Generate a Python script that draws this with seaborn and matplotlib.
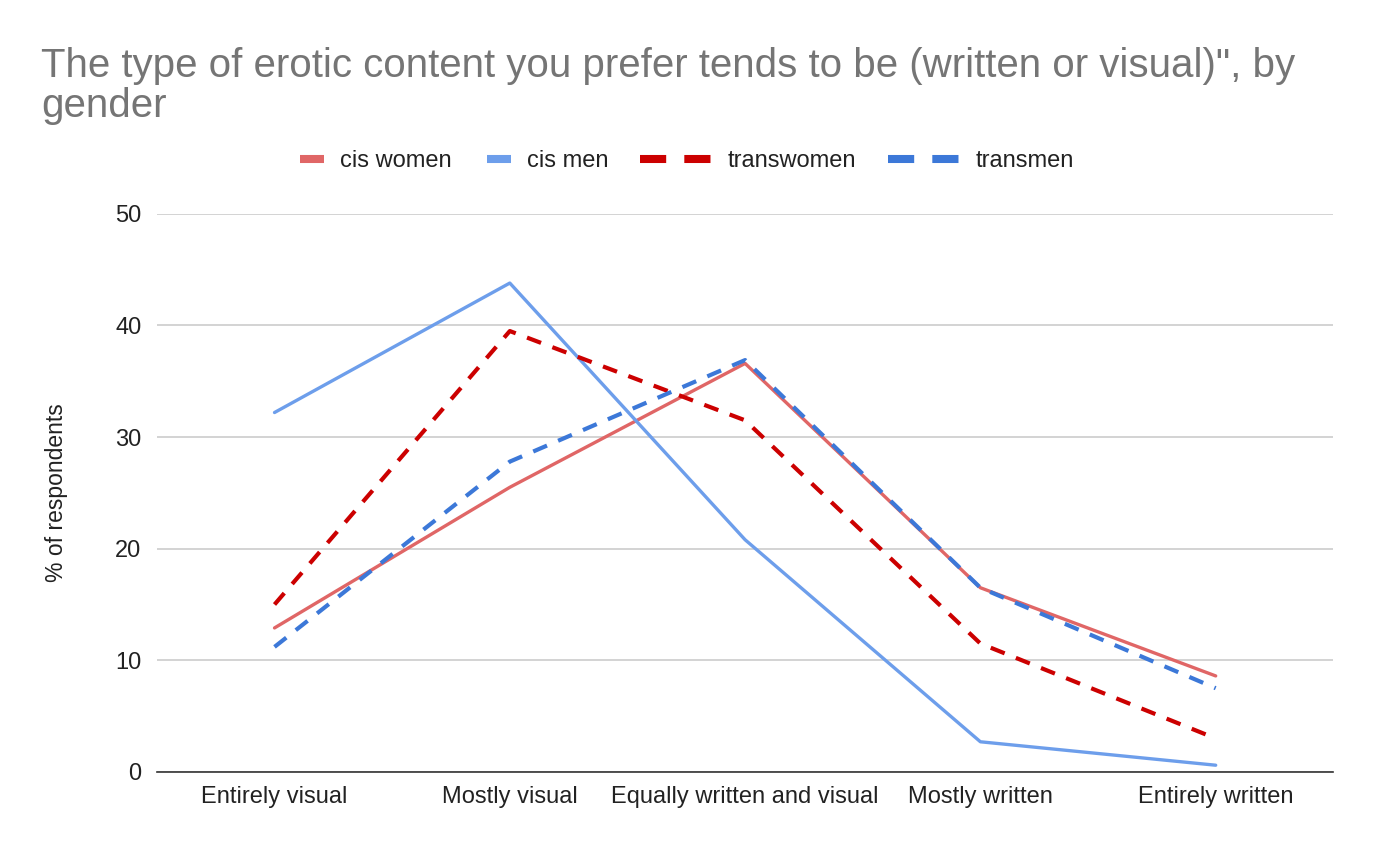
import matplotlib.pyplot as plt
from matplotlib.lines import Line2D
import pandas as pd
import seaborn as sns

categories = ['Entirely visual', 'Mostly visual', 'Equally written and visual',
              'Mostly written', 'Entirely written']
cis_women = [12.9, 25.5, 36.6, 16.5, 8.6]
cis_men = [32.2, 43.8, 20.8, 2.7, 0.6]
transwomen = [15.0, 39.5, 31.5, 11.5, 3.0]
transmen = [11.2, 27.8, 36.9, 16.5, 7.5]

series = {'cis women': cis_women, 'cis men': cis_men,
          'transwomen': transwomen, 'transmen': transmen}
df = pd.DataFrame([(g, c, v) for g, vals in series.items()
                   for c, v in zip(categories, vals)],
                  columns=['gender', 'category', 'value'])

palette = {'cis women': '#e06666', 'cis men': '#6d9eeb',
           'transwomen': '#cc0000', 'transmen': '#3c78d8'}
dashed = {'cis women': False, 'cis men': False, 'transwomen': True, 'transmen': True}
dashes = {k: ((3.6, 2.9) if v else '') for k, v in dashed.items()}

sns.set_style('white')
plt.rcParams['font.family'] = ['Liberation Sans', 'DejaVu Sans']

fig = plt.figure(figsize=(13.76, 8.52), dpi=100)
ax = fig.add_axes([0.114, 0.094, 0.855, 0.655])
sns.lineplot(data=df, x='category', y='value', hue='gender', style='gender',
             palette=palette, dashes=dashes, linewidth=2.4, ax=ax, sort=False,
             legend=False)
# dashed series are drawn a bit heavier
for line, name in zip(ax.lines, series):
    if dashed[name]:
        line.set_linewidth(3.0)

ax.set_xlim(-0.5, 4.5)
ax.set_ylim(0, 50)
ax.set_yticks(range(0, 51, 10))
ax.yaxis.grid(True, color='#cccccc', linewidth=1.2)
ax.set_axisbelow(True)
for s in ['top', 'right', 'left']:
    ax.spines[s].set_visible(False)
ax.spines['bottom'].set_color('#333333')
ax.spines['bottom'].set_linewidth(1.2)
ax.tick_params(axis='both', length=0, labelsize=17, colors='#222222', pad=10)
ax.tick_params(axis='y', pad=11)
ax.set_xlabel('')
ax.set_ylabel('% of respondents', fontsize=16.5, color='#222222', labelpad=34)

# legend: one small legend per entry so solid and dashed keys get their own length
leg_x = {'cis women': 0.218, 'cis men': 0.354, 'transwomen': 0.465, 'transmen': 0.645}
for name in series:
    if dashed[name]:
        h = Line2D([], [], color=palette[name], lw=5.8, dashes=(3.25, 2.25))
        hl = 3.05
    else:
        h = Line2D([], [], color=palette[name], lw=5.8, solid_capstyle='butt')
        hl = 1.02
    fig.legend([h], [name], loc='center left', bbox_to_anchor=(leg_x[name], 0.811),
               frameon=False, fontsize=17, handlelength=hl, handletextpad=0.68,
               borderpad=0, borderaxespad=0, labelcolor='#222222')

fig.text(0.03, 0.853, 'The type of erotic content you prefer tends to be (written or visual)", by\ngender',
         fontsize=29, color='#757575', va='bottom', ha='left', linespacing=1.08)

fig.savefig('out.png', dpi=100)
